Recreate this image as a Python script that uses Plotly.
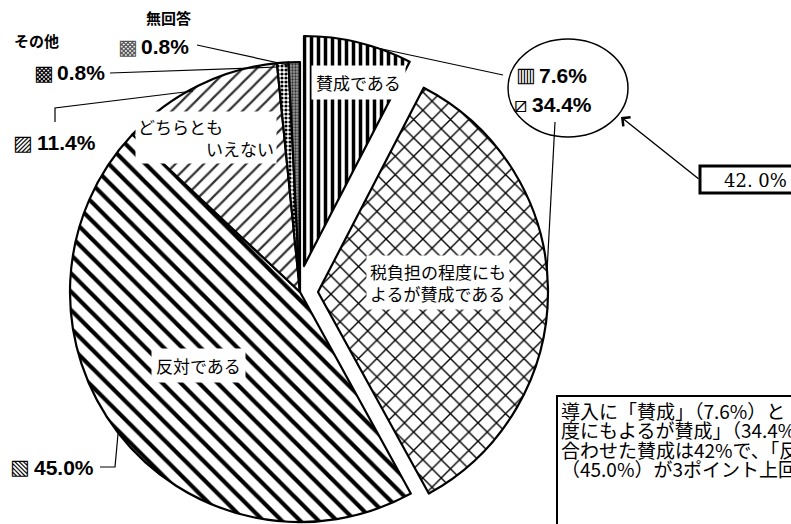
import plotly.graph_objects as go

# ---------------- data ----------------
labels = ["賛成である", "税負担の程度にもよるが賛成である", "反対である",
          "どちらともいえない", "その他", "無回答"]
values = [7.6, 34.4, 45.0, 11.4, 0.8, 0.8]
slice_text = ["賛成である", "税負担の程度にも<br>よるが賛成である", "反対である",
              "どちらとも<br>　　　　いえない"]
total_support = values[0] + values[1]

# ---------------- styles ----------------
W, H = 791, 524
def px(x):
    return x / W
def py(y):
    return 1 - y / H

pat_shape = ["|", "x", "\\", "/", ".", "."]
pat_fg = ["black", "black", "black", "#333333", "black", "#333333"]
pat_bg = ["white", "white", "white", "white", "white", "#9a9a9a"]
pat_size = [7, 13, 13, 10, 4, 3]
pat_sol = [0.5, 0.2, 0.32, 0.22, 0.5, 0.45]
CLEAR = "rgba(0,0,0,0)"


def pie_trace(show, cx, cy, r):
    n = len(values)
    return go.Pie(
        labels=labels, values=values, sort=False, direction="clockwise",
        rotation=0,
        domain=dict(x=[px(cx - r), px(cx + r)], y=[py(cy + r), py(cy - r)]),
        marker=dict(
            colors=["white" if i in show else CLEAR for i in range(n)],
            line=dict(color=["black" if i in show else CLEAR for i in range(n)],
                      width=[2.2 if i in show else 0 for i in range(n)]),
            pattern=dict(
                shape=[pat_shape[i] if i in show else "/" for i in range(n)],
                fgcolor=[pat_fg[i] if i in show else CLEAR for i in range(n)],
                bgcolor=[pat_bg[i] if i in show else CLEAR for i in range(n)],
                size=[pat_size[i] for i in range(n)],
                solidity=[pat_sol[i] for i in range(n)],
            ),
        ),
        textinfo="none", hoverinfo="skip", showlegend=False,
    )


fig = go.Figure()
R = 230
fig.add_trace(pie_trace([2, 3, 4, 5], 300, 292, R))
fig.add_trace(pie_trace([0], 304, 266, R))
fig.add_trace(pie_trace([1], 318, 292, R))

JP = "Noto Sans CJK JP, sans-serif"
NUM = "Liberation Sans Narrow, Arial Narrow, Liberation Sans, Arial, sans-serif"
ICON = "DejaVu Sans, Noto Sans CJK JP, sans-serif"
annotations = []
shapes = []


def text(x, y, s, size=16, family=JP, color="black", xanchor="center",
         bg=None, pad=1, bold=False):
    if bold:
        s = "<b>" + s + "</b>"
    annotations.append(dict(
        x=px(x), y=py(y), xref="paper", yref="paper", text=s, showarrow=False,
        xanchor=xanchor, yanchor="middle", align="left",
        font=dict(size=size, family=family, color=color),
        bgcolor=bg, borderpad=pad,
    ))


def line(points, width=1.2):
    d = "M " + " L ".join(f"{px(a)},{py(b)}" for a, b in points)
    shapes.append(dict(type="path", path=d, xref="paper", yref="paper",
                       line=dict(color="black", width=width)))


def pct(v):
    return f"{v:.1f}%"

# inside slice labels
text(358, 83, slice_text[0], 17, bg="white", pad=4)
text(438, 282, slice_text[1], 17, bg="white", pad=3)
text(199, 365, slice_text[2], 17, bg="white", pad=4)
text(206, 138, slice_text[3], 17, bg="white", pad=2)

# outside labels
text(168, 17, labels[5], 15, bold=True)
text(36, 40, labels[4], 15, bold=True)
text(128, 47, "▩", 21, family=ICON, color="#555555")
text(139, 47, pct(values[5]), 21, family=NUM, xanchor="left", bold=True)
text(44, 73, "▩", 21, family=ICON)
text(55, 73, pct(values[4]), 21, family=NUM, xanchor="left", bold=True)
text(23, 143, "▨", 21, family=ICON)
text(35, 143, pct(values[3]), 21, family=NUM, xanchor="left", bold=True)
text(20, 467, "▧", 21, family=ICON)
text(32, 467, pct(values[2]), 21, family=NUM, xanchor="left", bold=True)
text(526, 75, "▥", 21, family=ICON)
text(537, 75, pct(values[0]), 21, family=NUM, xanchor="left", bold=True)
text(520, 105, "⧄", 21, family=ICON)
text(530, 105, pct(values[1]), 21, family=NUM, xanchor="left", bold=True)

# leader lines
line([(197, 45), (288, 65)])
line([(110, 73), (278, 67)])
line([(55, 122), (55, 108), (193, 91)])
line([(100, 467), (115, 467), (118, 434)])
line([(503, 75), (368, 46)])
line([(555, 122), (547, 272)])

# ellipse around the two support shares
shapes.append(dict(type="circle", xref="paper", yref="paper",
                   x0=px(508), x1=px(628), y0=py(137), y1=py(39),
                   line=dict(color="black", width=1.5)))

# total box + arrow
shapes.append(dict(type="rect", xref="paper", yref="paper",
                   x0=px(700), x1=px(812), y0=py(193), y1=py(166),
                   line=dict(color="black", width=3), fillcolor="white"))
annotations.append(dict(x=px(789), y=py(180), xref="paper", yref="paper",
                        text=f"{total_support:.1f}".replace(".", ". ") + "%",
                        showarrow=False, xanchor="right", yanchor="middle",
                        font=dict(size=18, family="DejaVu Serif, serif",
                                  color="black")))
annotations.append(dict(x=px(621), y=py(117), xref="paper", yref="paper",
                        text="", showarrow=True, arrowhead=4, arrowsize=1.6,
                        arrowwidth=1.4, arrowcolor="black", ax=79, ay=63))

# comment box (cropped at the right / bottom edge)
shapes.append(dict(type="rect", xref="paper", yref="paper",
                   x0=px(557), x1=px(830), y0=py(560), y1=py(396),
                   line=dict(color="black", width=2), fillcolor="white"))
comment = [
    f"導入に「賛成」（{values[0]}%）と「税負担の程",
    f"度にもよるが賛成」（{values[1]}%）を",
    f"合わせた賛成は{total_support:.0f}%で、「反対」",
    f"（{values[2]}%）が3ポイント上回った。",
]
for i, s in enumerate(comment):
    text(559, 410 + i * 19.5, s, 19, xanchor="left")

fig.update_layout(
    width=W, height=H, margin=dict(l=0, r=0, t=0, b=0),
    paper_bgcolor="white", plot_bgcolor="white",
    annotations=annotations, shapes=shapes,
)
fig.write_html("out.html", config={"displayModeBar": False},
               post_script="document.body.style.margin='0px';"
                           "document.body.style.overflow='hidden';")
